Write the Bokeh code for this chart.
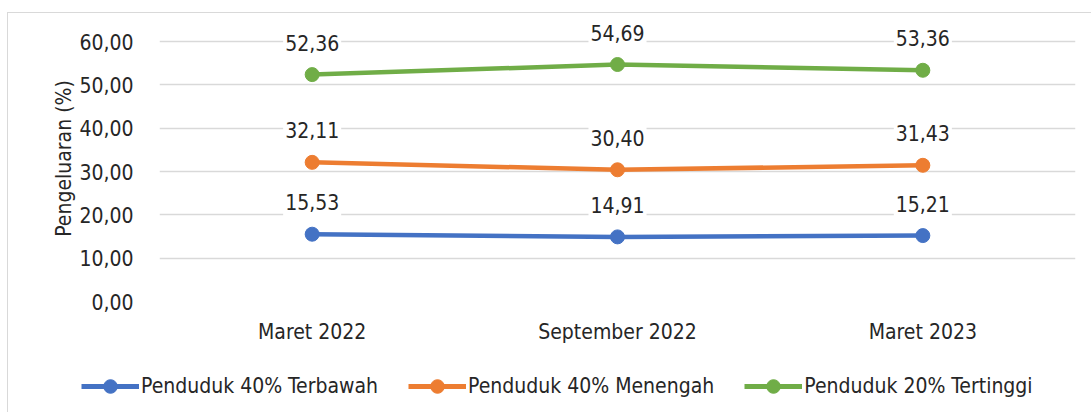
from bokeh.plotting import figure
from bokeh.layouts import column
from bokeh.models import (ColumnDataSource, Legend, LegendItem,
                          CustomJSTickFormatter, FactorRange, Range1d)
from bokeh.core.properties import value
from bokeh.embed import file_html
from bokeh.resources import INLINE

periods = ["Maret 2022", "September 2022", "Maret 2023"]
bawah = [15.53, 14.91, 15.21]
menengah = [32.11, 30.40, 31.43]
tinggi = [52.36, 54.69, 53.36]
series_names = ["Penduduk 40% Terbawah", "Penduduk 40% Menengah", "Penduduk 20% Tertinggi"]
colors = ["#4472C4", "#ED7D31", "#70AD47"]
y_ticks = [0, 10, 20, 30, 40, 50, 60]

FONT = "'DejaVu Sans Condensed', Roboto, sans-serif"
TXT = "#262626"
BORDER = "1px solid #d9d9d9"

p = figure(width=1084, height=338, x_range=FactorRange(*periods),
           y_range=Range1d(0, 66), output_backend="svg", toolbar_location=None,
           min_border_left=151, min_border_right=17, min_border_top=2,
           min_border_bottom=50)
p.frame_align = False
p.styles = {"border-top": BORDER, "border-left": BORDER}
p.outline_line_color = None
p.x_range.range_padding = 0
p.xgrid.grid_line_color = None
p.ygrid.grid_line_color = "#d9d9d9"
p.ygrid.grid_line_width = 1.3
p.yaxis.ticker = y_ticks
p.yaxis.formatter = CustomJSTickFormatter(code="return tick.toFixed(2).replace('.', ',');")

for ax in (p.xaxis[0], p.yaxis[0]):
    ax.axis_line_color = None
    ax.major_tick_line_color = None
    ax.minor_tick_line_color = None
    ax.major_tick_out = 0
    ax.major_tick_in = 0
    ax.major_label_text_font = FONT
    ax.major_label_text_font_size = "21px"
    ax.major_label_text_color = TXT
p.yaxis.major_label_standoff = 26
p.xaxis.major_label_standoff = 18
p.yaxis.axis_label = "Pengeluaran (%)"
p.yaxis.axis_label_text_font = FONT
p.yaxis.axis_label_text_font_size = "21px"
p.yaxis.axis_label_text_font_style = "normal"
p.yaxis.axis_label_text_color = TXT
p.yaxis.axis_label_standoff = 0

# legend strip below the chart
lf = figure(width=1084, height=62, x_range=Range1d(0, 1084), y_range=Range1d(0, 62),
            output_backend="svg", toolbar_location=None,
            min_border_left=0, min_border_right=0, min_border_top=0, min_border_bottom=0)
lf.frame_align = False
lf.styles = {"border-left": BORDER}
lf.outline_line_color = None
lf.axis.visible = False
lf.grid.visible = False

items = []
for name, vals, col in zip(series_names, [bawah, menengah, tinggi], colors):
    src = ColumnDataSource(dict(x=periods, y=vals,
                                lbl=[f"{v:.2f}".replace(".", ",") for v in vals]))
    p.line("x", "y", source=src, line_color=col, line_width=4.5)
    p.scatter("x", "y", source=src, size=14, fill_color=col, line_color=col)
    p.text("x", "y", text="lbl", source=src, y_offset=-32,
           text_align="center", text_baseline="middle",
           text_font=value(FONT), text_font_size="21px", text_color=TXT,
           background_fill_color="white", padding=[2, 8])
    # off-screen proxy renderers used only for the legend swatches
    proxy = ColumnDataSource(dict(x=[-100, -90], y=[-100, -100]))
    lln = lf.line("x", "y", source=proxy, line_color=col, line_width=5)
    lsc = lf.scatter("x", "y", source=proxy, size=14, fill_color=col, line_color=col)
    items.append(LegendItem(label=name, renderers=[lln, lsc]))

legend = Legend(items=items, orientation="horizontal", location=(73, 9),
                glyph_width=58, glyph_height=34, label_standoff=2, spacing=30,
                padding=0, margin=0, border_line_color=None,
                background_fill_alpha=0, label_text_font=FONT,
                label_text_font_size="21px", label_text_color=TXT)
lf.add_layout(legend, "center")

layout = column(p, lf, spacing=0)
layout.margin = (12, 0, 0, 7)
open("out.html", "w").write(file_html(layout, INLINE))
